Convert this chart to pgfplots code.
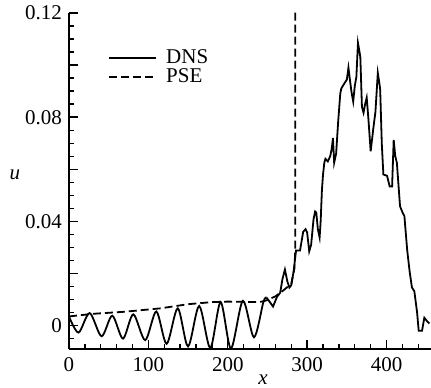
\documentclass[border=0pt]{standalone}
\usepackage{fontspec}
\setmainfont{Liberation Serif}
\usepackage{pgfplots}
\pgfplotsset{compat=1.18}
\begin{document}
\fontsize{21}{25}\selectfont
\begin{tikzpicture}
\begin{axis}[name=ax, scale only axis, width=362pt, height=336pt,
  xmin=0, xmax=456, ymin=-0.009, ymax=0.12,
  axis x line*=bottom, axis y line*=left,
  axis line style={line width=1.6pt},
  tick align=inside, major tick length=9pt, minor tick length=5pt,
  every tick/.style={line width=1.4pt, black},
  xtick={0,100,200,300,400}, minor xtick={20,40,60,80,120,140,160,180,220,240,260,280,320,340,360,380,420,440},
  ytick={0,0.02,0.04,0.06,0.08,0.1,0.12}, yticklabels={0,,0.04,,0.08,,0.12},
  minor ytick={-0.005,0.005,0.01,0.015,0.025,0.03,0.035,0.045,0.05,0.055,0.065,0.07,0.075,0.085,0.09,0.095,0.105,0.11,0.115},
  scaled y ticks=false,
  /pgf/number format/assume math mode=true,
  tick label style={font=\fontsize{21}{25}\selectfont},
  xticklabel style={yshift=-1pt},
  every axis x label/.style={at={(rel axis cs:0.5,0)}, anchor=center, xshift=13pt, yshift=-31pt, font=\fontsize{21}{25}\selectfont},
  every axis y label/.style={at={(rel axis cs:0,0.5)}, anchor=center, xshift=-54pt, yshift=6pt, font=\fontsize{21}{25}\selectfont},
  xlabel={\textit{x}}, ylabel={\textit{u}},
  legend style={draw=none, fill=none, at={(rel axis cs:0.1,0.905)}, anchor=north west, font=\fontsize{21}{23}\selectfont, row sep=-2pt,
    /tikz/every odd column/.append style={column sep=7pt}},
  legend cell align=left,
  legend image code/.code={\draw[#1] (0pt,0pt) -- (47pt,0pt);},
]
\addplot[black, line width=1.8pt, smooth, tension=0.5] coordinates {
(0,0.0035) (12,-0.0027) (26,0.0048) (41,-0.0041) (54.5,0.0038) (68,-0.005) (81,0.0043) (96,-0.0056) (110,0.0054) (123,-0.007) (137,0.0066) (150,-0.008) (164,0.0075) (178,-0.0086) (191,0.009) (204,-0.0088) (219,0.0095) (233,-0.0045) (245,0.0092) (249,0.0107)
};
\addlegendentry{DNS}
\addplot[black, line width=1.8pt, dash pattern=on 8pt off 4pt] coordinates {
(0,0.0035) (30,0.0045) (70,0.0053) (115,0.0066) (150,0.0082) (180,0.009) (200,0.0092) (240,0.009) (248,0.0096) (260,0.0112) (270,0.0135) (280,0.016) (284,0.022) (285,0.029) (285,0.125)
};
\addlegendentry{PSE}
\addplot[black, line width=1.8pt, forget plot] coordinates {
(249,0.0107) (257,0.0073) (262,0.011) (266,0.0126) (269,0.018) (272,0.0215) (275,0.017) (277.6,0.0146) (280,0.0155) (283,0.0209) (286,0.0288) (291,0.0288) (295,0.036) (298,0.037) (300,0.0357) (302.6,0.0285) (305,0.031) (308,0.0407) (310,0.0438) (311.5,0.0434) (313.5,0.037) (315.7,0.0338) (317,0.04) (318.6,0.052) (320,0.058) (321.6,0.0625) (323,0.064) (326,0.063) (329,0.065) (331,0.068) (332.5,0.072) (334,0.0625) (336.5,0.066) (339,0.078) (341.7,0.089) (343,0.091) (345.7,0.0924) (348,0.0935) (350,0.0944) (352,0.099) (354,0.094) (356,0.0894) (358,0.086) (360,0.092) (362,0.0955) (364,0.1085) (366,0.105) (367,0.103) (369,0.084) (371,0.0817) (373,0.085) (375,0.0875) (377,0.080) (380,0.0669) (383.6,0.0763) (386,0.082) (389,0.097) (391,0.093) (392,0.0905) (394,0.070) (396,0.058) (400.6,0.0575) (404,0.0534) (407,0.0534) (409,0.0713) (411,0.065) (413,0.0625) (417,0.0458) (420,0.0435) (422.5,0.042) (426,0.029) (429,0.021) (432,0.0146) (435,0.0132) (438.5,0.005) (440.5,-0.002) (444.7,-0.002) (447.6,0.003) (451,0.0017) (454,0.0008)
};
\end{axis}
\pgfresetboundingbox
\path[use as bounding box] ([xshift=-69pt,yshift=-39pt]ax.south west) rectangle ([yshift=13pt]ax.north east);
\end{tikzpicture}
\end{document}
